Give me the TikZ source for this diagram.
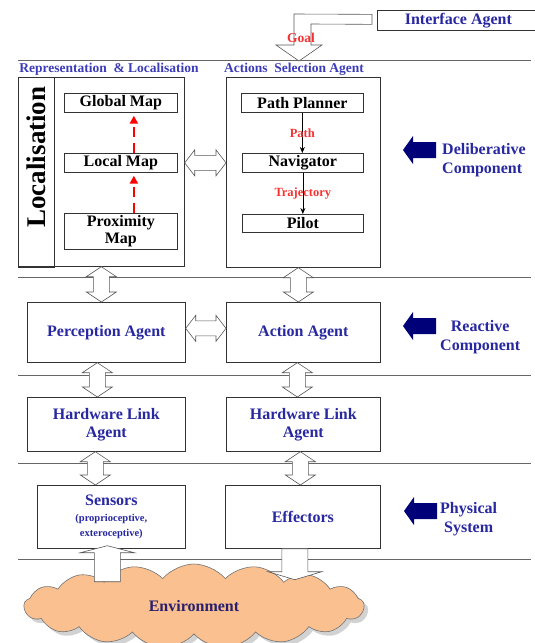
\documentclass[tikz,border=0pt]{standalone}
\usepackage{fontspec}
\setmainfont{Liberation Serif}
\usetikzlibrary{calc,arrows.meta,shapes.symbols,shadows}

\definecolor{txtblue}{RGB}{40,40,160}
\definecolor{hdrblue}{RGB}{60,60,185}
\definecolor{navyarr}{RGB}{0,0,120}
\definecolor{envfill}{RGB}{250,192,143}
\definecolor{lblred}{RGB}{245,50,50}

\tikzset{
  box/.style={draw=black!80, line width=0.7pt, inner sep=0pt, align=center, anchor=north west,
    font=\fontsize{16}{18}\selectfont\bfseries},
  hollow/.style={draw=black!65, fill=white, line width=0.6pt, line join=miter},
  layer/.style={draw=black!60, line width=0.7pt},
  lbl/.style={text=lblred, inner sep=0pt, font=\fontsize{12.5}{14}\selectfont\bfseries},
  hdr/.style={text=hdrblue, inner sep=0pt, font=\fontsize{13.5}{15}\selectfont\bfseries},
  side/.style={text=txtblue, anchor=west, align=center, inner sep=0pt,
    font=\fontsize{16}{19}\selectfont\bfseries},
  flow/.style={draw=black, line width=0.7pt, -{Stealth[length=6pt,width=5pt]}},
  reddash/.style={draw=red, line width=2pt, dash pattern=on 10pt off 6pt,
    -{Triangle[length=8pt,width=8pt]}},
  envcloud/.style={cloud, cloud puffs=17, cloud puff arc=100, cloud ignores aspect,
    minimum width=340, minimum height=84, fill=envfill, draw=black!55, line width=0.6pt,
    drop shadow={shadow xshift=4pt, shadow yshift=-4pt, fill=black!35},
    text={rgb,255:red,40;green,32;blue,110}, font=\fontsize{16}{18}\selectfont\bfseries},
  layerarrow/.pic={
    \fill[navyarr] (0,0) -- (10,-14) -- (10,-8) -- (33,-8) -- (33,8) -- (10,8) -- (10,14) -- cycle;
  }
}

% hollow double arrow, vertical (x from #1, ends at #1 and #2)
\newcommand{\vdbl}[2]{%
  \draw[hollow] let \p1=#1, \p2=#2 in
    (\x1,\y1) -- (\x1+15pt,\y1-10pt) -- (\x1+8pt,\y1-10pt) -- (\x1+8pt,\y2+10pt)
    -- (\x1+15pt,\y2+10pt) -- (\x1,\y2) -- (\x1-15pt,\y2+10pt) -- (\x1-8pt,\y2+10pt)
    -- (\x1-8pt,\y1-10pt) -- (\x1-15pt,\y1-10pt) -- cycle;
}
% hollow double arrow, horizontal (y from #1)
\newcommand{\hdbl}[2]{%
  \draw[hollow] let \p1=#1, \p2=#2 in
    (\x1,\y1) -- (\x1+10pt,\y1+13pt) -- (\x1+10pt,\y1+7.5pt) -- (\x2-10pt,\y1+7.5pt)
    -- (\x2-10pt,\y1+13pt) -- (\x2,\y1) -- (\x2-10pt,\y1-13pt) -- (\x2-10pt,\y1-7.5pt)
    -- (\x1+10pt,\y1-7.5pt) -- (\x1+10pt,\y1-13pt) -- cycle;
}

\begin{document}
\begin{tikzpicture}[x=1pt,y=-1pt]
\useasboundingbox (0,0) rectangle (535,643);

% layers
\foreach \y in {60,277,375,463,559}
  \draw[layer] (18,\y) -- (531,\y);

\node[envcloud] (env) at (194,606) {Environment};

% interface agent and goal
\node[box, minimum width=162, minimum height=20, text=txtblue] (iface) at (377,10) {Interface Agent};
\coordinate (goaltip) at (299,61);
\draw[hollow] ($(iface.west)+(-5,-6)$) -- (294,14) -- (294,45) -- (276,45) -- (goaltip)
  -- (322,45) -- (311,45) -- (311,24) -- ($(iface.west)+(-5,4)$) -- cycle;
\node[lbl, font=\fontsize{13.5}{15}\selectfont\bfseries] (goal) at (301,38) {Goal};

% deliberative layer
\node[hdr] (rephdr) at (109,69) {Representation \ \& Localisation};
\node[hdr] (asahdr) at (294,69) {Actions \ Selection Agent};
\node[box, minimum width=166, minimum height=189] (rep) at (18,77) {};
\node[box, line width=1.4pt, minimum width=36, minimum height=190] (loc) at (18,77) {};
\node[rotate=90, inner sep=0pt, font=\fontsize{27}{27}\selectfont\bfseries] (loctext) at (36,157) {Localisation};
\node[box, minimum width=154, minimum height=190] (asa) at (226,77) {};

\node[box, minimum width=113, minimum height=19] (gmap) at (64,93) {Global Map};
\node[box, minimum width=113, minimum height=19] (lmap) at (64,153) {Local Map};
\node[box, minimum width=113, minimum height=36, font=\fontsize{16}{17}\selectfont\bfseries] (pmap) at (64,213) {Proximity\\Map};
\draw[reddash] ($(pmap.north)+(13,0)$) -- ($(lmap.south)+(13,3)$);
\draw[reddash] ($(lmap.north)+(13,0)$) -- ($(gmap.south)+(13,3)$);

\node[box, minimum width=122, minimum height=19] (plan) at (241,93) {Path Planner};
\node[box, minimum width=121, minimum height=19] (nav) at (242,153) {Navigator};
\node[box, minimum width=121, minimum height=18] (pilot) at (242,214) {Pilot};
\draw[flow] (plan.south) -- (plan.south |- nav.north) node[lbl, midway] (pathlbl) {Path};
\draw[flow] (nav.south) -- (nav.south |- pilot.north) node[lbl, midway] (trajlbl) {Trajectory};

\hdbl{($(rep.east)+(0,-9)$)}{(asa.west)}

% reactive layer
\node[box, minimum width=158, minimum height=60, text=txtblue] (perc) at (27,302) {Perception Agent};
\node[box, minimum width=154, minimum height=60, text=txtblue] (act) at (226,302) {Action Agent};
\hdbl{($(perc.east)+(0,-4)$)}{(act.west)}
\vdbl{(rep.south)}{(perc.north)}
\vdbl{($(asa.south)+(-5,0)$)}{(act.north)}

\node[box, minimum width=158, minimum height=54, text=txtblue] (hwl) at (27,397) {Hardware Link\\Agent};
\node[box, minimum width=154, minimum height=54, text=txtblue] (hwr) at (226,397) {Hardware Link\\Agent};
\vdbl{($(perc.south)+(-9,0)$)}{(hwl.north)}
\vdbl{($(act.south)+(-6,0)$)}{(hwr.north)}

% physical layer
\node[box, minimum width=148, minimum height=63, text=txtblue] (sens) at (37,485)
  {Sensors\\[-2pt]{\fontsize{10.5}{12}\selectfont (proprioceptive,}\\[-3pt]{\fontsize{10.5}{12}\selectfont exteroceptive)}};
\node[box, minimum width=155, minimum height=63, text=txtblue] (eff) at (225,485) {Effectors};
\vdbl{($(hwl.south)+(-11,0)$)}{(sens.north)}
\vdbl{($(hwr.south)+(-3,0)$)}{(eff.north)}

\draw[hollow] let \p1=($(sens.south)+(-4,33)$), \p2=($(sens.south)+(-4,-3)$) in
  (\x1-13pt,\y1) -- (\x1-13pt,\y2-7pt) -- (\x1-27pt,\y2-7pt) -- (\x2,\y2)
  -- (\x1+27pt,\y2-7pt) -- (\x1+13pt,\y2-7pt) -- (\x1+13pt,\y1) -- cycle;
\draw[hollow] let \p1=($(eff.south)+(-8,0)$), \p2=($(eff.south)+(-8,31)$) in
  (\x1-13pt,\y1) -- (\x1-13pt,\y2+8pt) -- (\x1-27pt,\y2+8pt) -- (\x2,\y2)
  -- (\x1+27pt,\y2+8pt) -- (\x1+13pt,\y2+8pt) -- (\x1+13pt,\y1) -- cycle;

% layer names
\pic at (403,150) {layerarrow};
\node[side, align=left] (delib) at (442,160) {Deliberative\\Component};
\pic at (403,326) {layerarrow};
\node[side] (react) at (440,337) {Reactive\\Component};
\pic at (404,511) {layerarrow};
\node[side] (phys) at (440,519) {Physical\\System};
\end{tikzpicture}
\end{document}
